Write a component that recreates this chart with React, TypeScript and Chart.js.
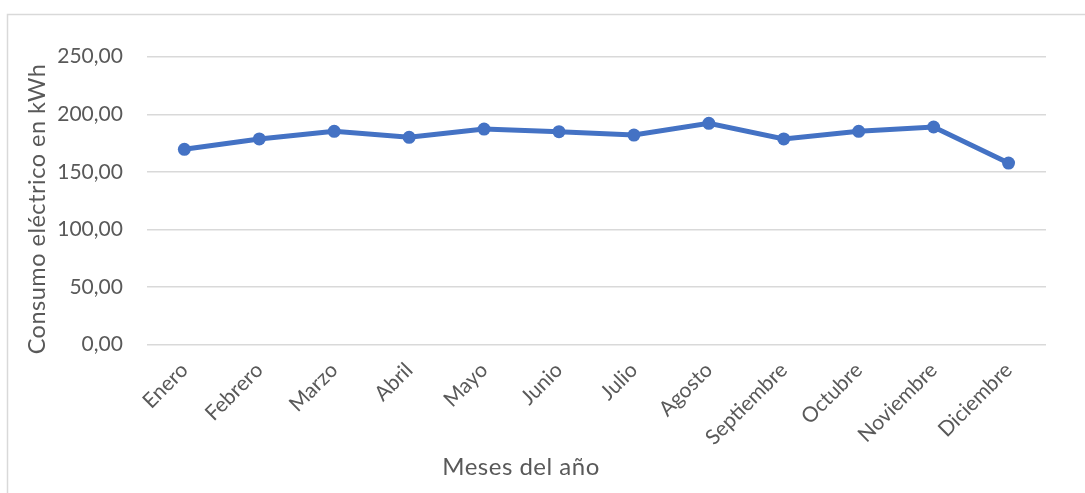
import React, { useEffect, useRef } from "react";
import { Chart, registerables } from "chart.js";

Chart.register(...registerables);

const months = [
  "Enero", "Febrero", "Marzo", "Abril", "Mayo", "Junio",
  "Julio", "Agosto", "Septiembre", "Octubre", "Noviembre", "Diciembre",
];
const consumo = [169.6, 178.6, 185.2, 180.0, 187.2, 184.9, 182.0, 192.2, 178.6, 185.2, 189.0, 157.7];
const yTitle = "Consumo eléctrico en kWh";
const xTitle = "Meses del año";

const FONT = "Lato, 'Open Sans', sans-serif";
const TEXT = "#595959";
const GRID = "#d9d9d9";

const framePlugin = {
  id: "frame",
  afterDraw(chart: any) {
    const ctx = chart.ctx;
    ctx.save();
    ctx.strokeStyle = GRID;
    ctx.lineWidth = 1.5;
    ctx.beginPath();
    ctx.moveTo(7.5, 493);
    ctx.lineTo(7.5, 14.5);
    ctx.lineTo(1085, 14.5);
    ctx.stroke();
    ctx.fillStyle = TEXT;
    ctx.textAlign = "center";
    ctx.textBaseline = "middle";
    ctx.font = `24px ${FONT}`;
    (ctx as any).letterSpacing = "0.5px";
    ctx.fillText(xTitle, 521, 467);
    ctx.translate(37, 209);
    ctx.rotate(-Math.PI / 2);
    ctx.font = `23.5px ${FONT}`;
    ctx.fillText(yTitle, 0, 0);
    ctx.restore();
  },
};

export default function App() {
  const ref = useRef<HTMLCanvasElement | null>(null);
  useEffect(() => {
    if (!ref.current) return;
    const chart = new Chart(ref.current, {
      type: "line",
      data: {
        labels: months,
        datasets: [
          {
            data: consumo,
            borderColor: "#4472C4",
            backgroundColor: "#4472C4",
            borderWidth: 5,
            pointRadius: 6.5,
            pointHoverRadius: 6.5,
            pointBackgroundColor: "#4472C4",
            pointBorderWidth: 0,
            tension: 0,
          },
        ],
      },
      options: {
        responsive: false,
        animation: false,
        layout: { padding: { top: 56.7, right: 39, left: 0, bottom: 0 } },
        plugins: { legend: { display: false }, tooltip: { enabled: false } },
        scales: {
          x: {
            offset: true,
            grid: { display: false },
            border: { display: false },
            ticks: {
              color: TEXT,
              font: { family: FONT, size: 21 },
              maxRotation: 45,
              minRotation: 45,
              padding: 5,
              autoSkip: false,
            },
            afterFit(axis: any) {
              axis.height = 148.3;
            },
          },
          y: {
            min: 0,
            max: 250,
            grid: { color: GRID, lineWidth: 1.5, drawTicks: false },
            border: { display: false },
            ticks: {
              stepSize: 50,
              color: TEXT,
              padding: 24,
              font: { family: FONT, size: 21 },
              callback: (v: any) => Number(v).toFixed(2).replace(".", ","),
            },
            afterFit(axis: any) {
              axis.width = 146.9;
            },
          },
        },
      },
      plugins: [framePlugin],
    });
    return () => chart.destroy();
  }, []);
  return (
    <div style={{ position: "fixed", left: 0, top: 0, width: 1085, height: 493, background: "#fff" }}>
      <canvas ref={ref} width={1085} height={493} style={{ width: 1085, height: 493 }} />
    </div>
  );
}
